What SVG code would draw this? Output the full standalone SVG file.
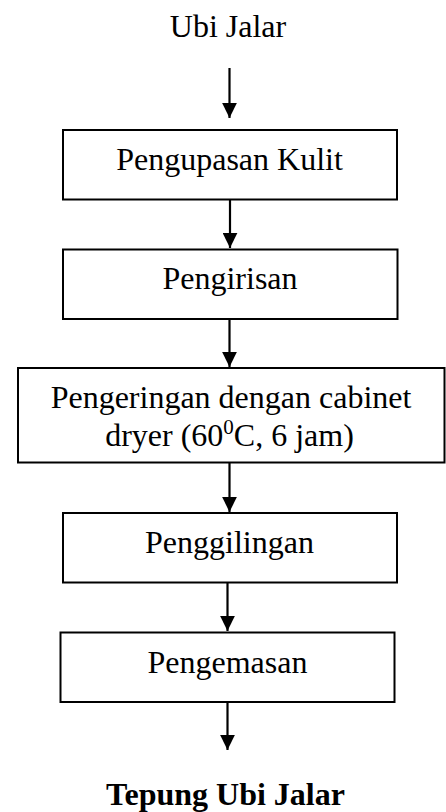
<svg xmlns="http://www.w3.org/2000/svg" width="446" height="812" viewBox="0 0 446 812">
<style>
.box{fill:#fff;stroke:#000;stroke-width:2}
.t{font-family:"Liberation Serif","Times New Roman",serif;font-size:32px;fill:#000;text-anchor:middle}
.b{font-weight:bold}
.c{stroke:#000;stroke-width:2.2;fill:none;marker-end:url(#ah)}
</style>
<defs>
<marker id="ah" markerUnits="userSpaceOnUse" markerWidth="15" markerHeight="15" refX="15" refY="7.35" orient="auto" viewBox="0 0 15 14.7">
<path d="M0,0 L15,7.35 L0,14.7 z" fill="#000"/>
</marker>
</defs>
<rect width="446" height="812" fill="#fff"/>
<g id="connectors">
<line class="c" x1="229.5" y1="68" x2="229.5" y2="118"/>
<line class="c" x1="230" y1="200" x2="230" y2="248"/>
<line class="c" x1="229.5" y1="319" x2="229.5" y2="367"/>
<line class="c" x1="229.5" y1="463" x2="229.5" y2="512"/>
<line class="c" x1="227.5" y1="582" x2="227.5" y2="631"/>
<line class="c" x1="227.5" y1="702" x2="227.5" y2="750"/>
</g>
<g id="start"><text class="t" x="228" y="37" font-size="31.5">Ubi Jalar</text></g>
<g id="n1"><rect class="box" x="63" y="130" width="334" height="69.5"/><text class="t" x="229.5" y="170">Pengupasan Kulit</text></g>
<g id="n2"><rect class="box" x="63" y="249.5" width="334.5" height="69.5"/><text class="t" x="230" y="289">Pengirisan</text></g>
<g id="n3"><rect class="box" x="18" y="368" width="426.5" height="94.5"/><text class="t" x="231" y="408">Pengeringan dengan cabinet</text><text class="t" x="229.5" y="445.5">dryer (60<tspan font-size="21" dy="-12">0</tspan><tspan dy="12">C, 6 jam)</tspan></text></g>
<g id="n4"><rect class="box" x="63" y="513" width="334" height="69.5"/><text class="t" x="229.5" y="552.5">Penggilingan</text></g>
<g id="n5"><rect class="box" x="60.5" y="632.5" width="334" height="69.5"/><text class="t" x="227.5" y="672.5">Pengemasan</text></g>
<g id="end"><text class="t b" x="225.5" y="805">Tepung Ubi Jalar</text></g>
</svg>
